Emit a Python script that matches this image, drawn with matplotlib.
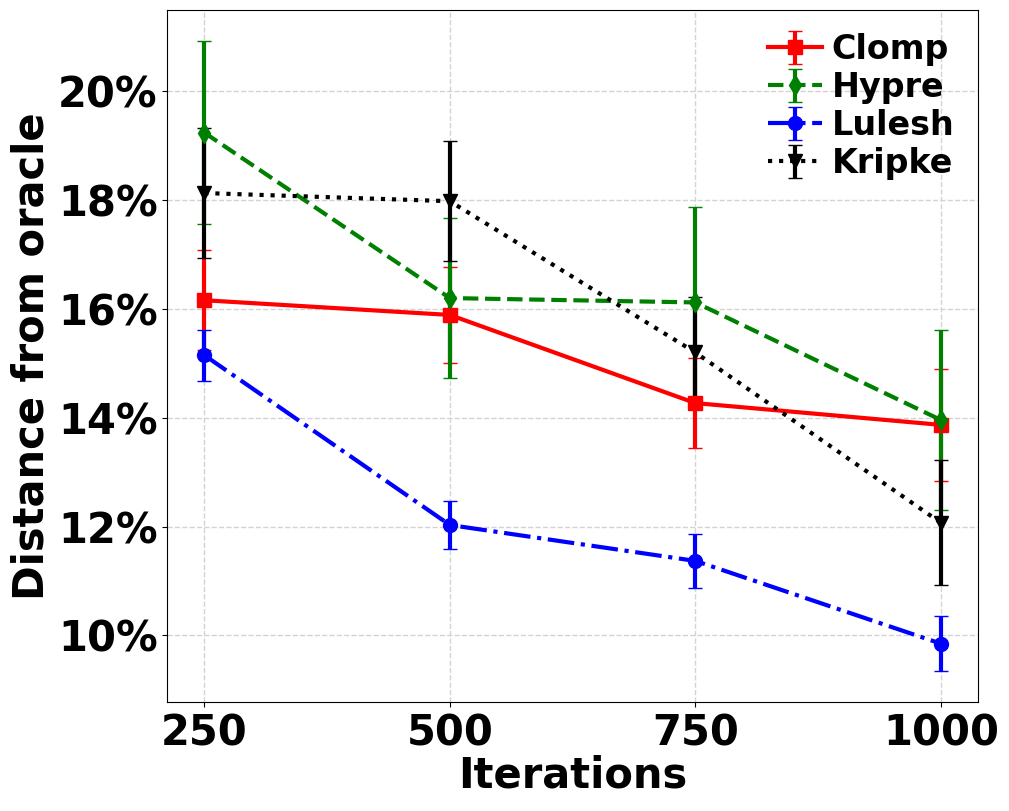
import matplotlib.pyplot as plt
import numpy as np
from matplotlib.ticker import FuncFormatter

iterations = [250, 500, 750, 1000]

clomp = [16.16, 15.89, 14.27, 13.87]
clomp_err = [0.92, 0.88, 0.83, 1.03]
hypre = [19.24, 16.20, 16.12, 13.96]
hypre_err = [1.68, 1.47, 1.75, 1.65]
lulesh = [15.15, 12.03, 11.37, 9.85]
lulesh_err = [0.47, 0.44, 0.50, 0.50]
kripke = [18.13, 17.98, 15.20, 12.07]
kripke_err = [1.20, 1.10, 1.02, 1.15]

fig, ax = plt.subplots(figsize=(10.09, 8.11), dpi=100)

ax.errorbar(iterations, clomp, yerr=clomp_err, color='red', linestyle='-', marker='s',
            markersize=10, linewidth=3, elinewidth=3, capsize=5, label='Clomp')
ax.errorbar(iterations, hypre, yerr=hypre_err, color='green', linestyle='--', marker='d',
            markersize=10, linewidth=3, elinewidth=3, capsize=5, label='Hypre')
ax.errorbar(iterations, lulesh, yerr=lulesh_err, color='blue', linestyle='-.', marker='o',
            markersize=10, linewidth=3, elinewidth=3, capsize=5, label='Lulesh')
ax.errorbar(iterations, kripke, yerr=kripke_err, color='black', linestyle=':', marker='v',
            markersize=10, linewidth=3, elinewidth=3, capsize=5, label='Kripke')

ax.set_xticks(iterations)
ax.set_yticks([10, 12, 14, 16, 18, 20])
ax.yaxis.set_major_formatter(FuncFormatter(lambda v, p: '%d%%' % v))
ax.tick_params(labelsize=30)
for lbl in ax.get_xticklabels() + ax.get_yticklabels():
    lbl.set_fontweight('bold')

ax.set_xlabel('Iterations', fontsize=30, fontweight='bold', labelpad=0)
ax.set_ylabel('Distance from oracle', fontsize=30, fontweight='bold', labelpad=4)
ax.grid(True, linestyle='--', color='lightgray', linewidth=1)

ax.legend(loc='upper right', frameon=False, prop={'size': 24, 'weight': 'bold'},
          handlelength=1.6, handletextpad=0.3, labelspacing=0.15, borderaxespad=0.3)

plt.subplots_adjust(left=0.166, right=0.969, top=0.988, bottom=0.134)
plt.savefig('out.png')
